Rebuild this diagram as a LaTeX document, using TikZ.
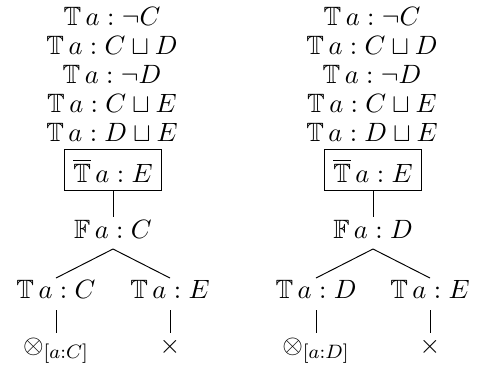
\documentclass[tikz,border=0pt]{standalone}
\usepackage{fix-cm}
\usepackage{amssymb}
\usetikzlibrary{calc}
\begin{document}
\begin{tikzpicture}[x=0.4132pt,y=-0.4132pt,
  lbl/.style={anchor=base,inner sep=0pt,font=\fontsize{10.95}{13}\selectfont},
  boxed/.style={draw,anchor=base,inner sep=3.6pt,font=\fontsize{10.95}{13}\selectfont},
  edge/.style={line width=0.4pt}]
\useasboundingbox (0,0) rectangle (480,367);
\foreach \cx/\t/\K in {113/l/C, 373/r/D}{
  \node[lbl] (\t1) at (\cx-1,25) {$\mathbb{T}\,a:\neg C$};
  \node[lbl] (\t2) at (\cx-1,54) {$\mathbb{T}\,a:C\sqcup D$};
  \node[lbl] (\t3) at (\cx-1,83) {$\mathbb{T}\,a:\neg D$};
  \node[lbl] (\t4) at (\cx-1,112) {$\mathbb{T}\,a:C\sqcup E$};
  \node[lbl] (\t5) at (\cx-1,141) {$\mathbb{T}\,a:D\sqcup E$};
  \node[boxed] (\t b) at (\cx,182) {$\overline{\mathbb{T}}\,a:E$};
  \node[lbl] (\t f) at (\cx,238) {$\mathbb{F}\,a:\K$};
  \node[lbl] (\t c) at (\cx-57,298) {$\mathbb{T}\,a:\K$};
  \node[lbl] (\t e) at (\cx+57,298) {$\mathbb{T}\,a:E$};
  \node[lbl] (\t x) at (\cx-57,353) {$\otimes_{[a:\K]}$};
  \node[lbl] (\t y) at (\cx+57,353) {$\times$};
  \draw[edge] (\t b.south) -- ($(\t f.base)+(0,-21)$);
  \draw[edge] ($(\t f.base)+(0,11)$) -- ($(\t c.base)+(0,-20)$);
  \draw[edge] ($(\t f.base)+(0,11)$) -- ($(\t e.base)+(0,-20)$);
  \draw[edge] ($(\t c.base)+(0,12)$) -- ($(\t x.base)+(0,-20)$);
  \draw[edge] ($(\t e.base)+(0,12)$) -- ($(\t y.base)+(0,-20)$);
}
\end{tikzpicture}
\end{document}
